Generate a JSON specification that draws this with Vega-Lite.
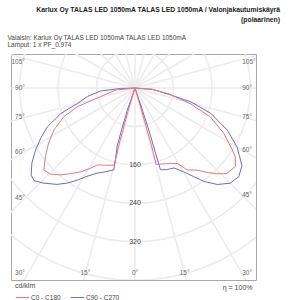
{
  "$schema": "https://vega.github.io/schema/vega-lite/v6.json",
  "width": 245,
  "height": 226,
  "autosize": {"type": "none"},
  "padding": {"left": 11, "top": 54, "right": 44, "bottom": 20},
  "background": "white",
  "config": {
    "view": {"stroke": "#a8a8a8", "strokeWidth": 1},
    "font": "Liberation Sans"
  },
  "title": {
    "text": ["Karlux Oy TALAS LED 1050mA TALAS LED 1050mA / Valonjakautumiskäyrä", "(polaarinen)"],
    "anchor": "end",
    "frame": "group",
    "align": "right",
    "fontSize": 6.8,
    "fontWeight": "bold",
    "color": "#222222",
    "lineHeight": 10,
    "dx": 24,
    "offset": 10
  },
  "datasets": {
    "rings": [{"r": 80}, {"r": 160}, {"r": 240}, {"r": 320}, {"r": 400}, {"r": 480}],
    "rays": [{"a": 0}, {"a": 15}, {"a": 30}, {"a": 45}, {"a": 60}, {"a": 75}, {"a": 90}, {"a": 105}, {"a": 120}, {"a": 135}, {"a": 150}, {"a": 165}, {"a": 180}, {"a": 195}, {"a": 210}, {"a": 225}, {"a": 240}, {"a": 255}, {"a": 270}, {"a": 285}, {"a": 300}, {"a": 315}, {"a": 330}, {"a": 345}],
    "alabels": [
      {"a": 30, "s": -1, "t": "30°"}, {"a": 45, "s": -1, "t": "45°"}, {"a": 60, "s": -1, "t": "60°"}, {"a": 75, "s": -1, "t": "75°"}, {"a": 90, "s": -1, "t": "90°"}, {"a": 105, "s": -1, "t": "105°"},
      {"a": 30, "s": 1, "t": "30°"}, {"a": 45, "s": 1, "t": "45°"}, {"a": 60, "s": 1, "t": "60°"}, {"a": 75, "s": 1, "t": "75°"}, {"a": 90, "s": 1, "t": "90°"}, {"a": 105, "s": 1, "t": "105°"},
      {"a": 15, "s": -1, "t": "15°"}, {"a": 0, "s": 1, "t": "0°"}, {"a": 15, "s": 1, "t": "15°"}
    ],
    "curves": [
      {"c": "C90 - C270", "s": -1, "i": 1, "g": 90, "v": 0},
      {"c": "C90 - C270", "s": -1, "i": 2, "g": 88, "v": 30},
      {"c": "C90 - C270", "s": -1, "i": 3, "g": 85, "v": 72},
      {"c": "C90 - C270", "s": -1, "i": 4, "g": 80, "v": 100},
      {"c": "C90 - C270", "s": -1, "i": 5, "g": 75, "v": 124},
      {"c": "C90 - C270", "s": -1, "i": 6, "g": 71, "v": 163},
      {"c": "C90 - C270", "s": -1, "i": 7, "g": 66, "v": 200},
      {"c": "C90 - C270", "s": -1, "i": 8, "g": 62, "v": 222},
      {"c": "C90 - C270", "s": -1, "i": 9, "g": 58, "v": 244},
      {"c": "C90 - C270", "s": -1, "i": 10, "g": 54, "v": 265},
      {"c": "C90 - C270", "s": -1, "i": 11, "g": 50, "v": 282},
      {"c": "C90 - C270", "s": -1, "i": 12, "g": 47.5, "v": 285},
      {"c": "C90 - C270", "s": -1, "i": 13, "g": 44, "v": 275},
      {"c": "C90 - C270", "s": -1, "i": 14, "g": 39, "v": 258},
      {"c": "C90 - C270", "s": -1, "i": 15, "g": 35.5, "v": 243},
      {"c": "C90 - C270", "s": -1, "i": 16, "g": 32, "v": 226},
      {"c": "C90 - C270", "s": -1, "i": 17, "g": 28.5, "v": 209},
      {"c": "C90 - C270", "s": -1, "i": 18, "g": 24, "v": 194},
      {"c": "C90 - C270", "s": -1, "i": 19, "g": 19.5, "v": 185},
      {"c": "C90 - C270", "s": -1, "i": 20, "g": 14.5, "v": 176},
      {"c": "C90 - C270", "s": -1, "i": 21, "g": 15.5, "v": 150},
      {"c": "C90 - C270", "s": -1, "i": 22, "g": 17, "v": 127},
      {"c": "C90 - C270", "s": -1, "i": 23, "g": 17.8, "v": 91},
      {"c": "C90 - C270", "s": -1, "i": 24, "g": 19, "v": 50},
      {"c": "C90 - C270", "s": -1, "i": 25, "g": 20, "v": 0},
      {"c": "C90 - C270", "s": 1, "i": 26, "g": 18.5, "v": 50},
      {"c": "C90 - C270", "s": 1, "i": 27, "g": 18.2, "v": 92},
      {"c": "C90 - C270", "s": 1, "i": 28, "g": 17.5, "v": 140},
      {"c": "C90 - C270", "s": 1, "i": 29, "g": 17.3, "v": 178},
      {"c": "C90 - C270", "s": 1, "i": 30, "g": 21, "v": 182},
      {"c": "C90 - C270", "s": 1, "i": 31, "g": 26, "v": 185},
      {"c": "C90 - C270", "s": 1, "i": 32, "g": 30, "v": 201},
      {"c": "C90 - C270", "s": 1, "i": 33, "g": 33.5, "v": 221},
      {"c": "C90 - C270", "s": 1, "i": 34, "g": 36.5, "v": 242},
      {"c": "C90 - C270", "s": 1, "i": 35, "g": 40.5, "v": 264},
      {"c": "C90 - C270", "s": 1, "i": 36, "g": 45, "v": 280},
      {"c": "C90 - C270", "s": 1, "i": 37, "g": 49.5, "v": 284},
      {"c": "C90 - C270", "s": 1, "i": 38, "g": 54, "v": 275},
      {"c": "C90 - C270", "s": 1, "i": 39, "g": 57, "v": 259},
      {"c": "C90 - C270", "s": 1, "i": 40, "g": 60, "v": 245},
      {"c": "C90 - C270", "s": 1, "i": 41, "g": 65.5, "v": 211},
      {"c": "C90 - C270", "s": 1, "i": 42, "g": 71.5, "v": 166},
      {"c": "C90 - C270", "s": 1, "i": 43, "g": 76, "v": 120},
      {"c": "C90 - C270", "s": 1, "i": 44, "g": 79, "v": 75},
      {"c": "C90 - C270", "s": 1, "i": 45, "g": 85, "v": 38},
      {"c": "C90 - C270", "s": 1, "i": 46, "g": 90, "v": 0},
      {"c": "C0 - C180", "s": -1, "i": 1, "g": 90, "v": 0},
      {"c": "C0 - C180", "s": -1, "i": 2, "g": 84, "v": 40},
      {"c": "C0 - C180", "s": -1, "i": 3, "g": 76, "v": 74},
      {"c": "C0 - C180", "s": -1, "i": 4, "g": 72, "v": 126},
      {"c": "C0 - C180", "s": -1, "i": 5, "g": 68, "v": 160},
      {"c": "C0 - C180", "s": -1, "i": 6, "g": 62.6, "v": 190},
      {"c": "C0 - C180", "s": -1, "i": 7, "g": 57.5, "v": 213},
      {"c": "C0 - C180", "s": -1, "i": 8, "g": 52.5, "v": 235},
      {"c": "C0 - C180", "s": -1, "i": 9, "g": 48, "v": 255},
      {"c": "C0 - C180", "s": -1, "i": 10, "g": 44.5, "v": 251},
      {"c": "C0 - C180", "s": -1, "i": 11, "g": 40.5, "v": 238},
      {"c": "C0 - C180", "s": -1, "i": 12, "g": 37, "v": 223},
      {"c": "C0 - C180", "s": -1, "i": 13, "g": 33, "v": 208},
      {"c": "C0 - C180", "s": -1, "i": 14, "g": 29, "v": 191},
      {"c": "C0 - C180", "s": -1, "i": 15, "g": 26, "v": 178},
      {"c": "C0 - C180", "s": -1, "i": 16, "g": 20, "v": 171},
      {"c": "C0 - C180", "s": -1, "i": 17, "g": 15, "v": 166},
      {"c": "C0 - C180", "s": -1, "i": 18, "g": 15.8, "v": 125},
      {"c": "C0 - C180", "s": -1, "i": 19, "g": 16, "v": 91},
      {"c": "C0 - C180", "s": -1, "i": 20, "g": 17, "v": 45},
      {"c": "C0 - C180", "s": -1, "i": 21, "g": 18, "v": 0},
      {"c": "C0 - C180", "s": 1, "i": 22, "g": 16.5, "v": 45},
      {"c": "C0 - C180", "s": 1, "i": 23, "g": 16, "v": 91},
      {"c": "C0 - C180", "s": 1, "i": 24, "g": 16, "v": 125},
      {"c": "C0 - C180", "s": 1, "i": 25, "g": 15.5, "v": 165},
      {"c": "C0 - C180", "s": 1, "i": 26, "g": 22, "v": 170},
      {"c": "C0 - C180", "s": 1, "i": 27, "g": 29.3, "v": 180},
      {"c": "C0 - C180", "s": 1, "i": 28, "g": 32.5, "v": 202},
      {"c": "C0 - C180", "s": 1, "i": 29, "g": 37, "v": 214},
      {"c": "C0 - C180", "s": 1, "i": 30, "g": 40.5, "v": 231},
      {"c": "C0 - C180", "s": 1, "i": 31, "g": 43.7, "v": 247},
      {"c": "C0 - C180", "s": 1, "i": 32, "g": 47, "v": 261},
      {"c": "C0 - C180", "s": 1, "i": 33, "g": 52, "v": 265},
      {"c": "C0 - C180", "s": 1, "i": 34, "g": 55.5, "v": 253},
      {"c": "C0 - C180", "s": 1, "i": 35, "g": 57.5, "v": 240},
      {"c": "C0 - C180", "s": 1, "i": 36, "g": 63, "v": 207},
      {"c": "C0 - C180", "s": 1, "i": 37, "g": 69, "v": 168},
      {"c": "C0 - C180", "s": 1, "i": 38, "g": 74, "v": 120},
      {"c": "C0 - C180", "s": 1, "i": 39, "g": 80, "v": 72},
      {"c": "C0 - C180", "s": 1, "i": 40, "g": 86, "v": 35},
      {"c": "C0 - C180", "s": 1, "i": 41, "g": 90, "v": 0}
    ]
  },
  "resolve": {"axis": {"x": "independent"}},
  "layer": [
    {
      "data": {"name": "rings"},
      "transform": [{"calculate": "0", "as": "z"}],
      "mark": {"type": "point", "shape": "circle", "filled": false, "stroke": "#ebebeb", "strokeWidth": 1.5, "opacity": 1, "clip": true},
      "encoding": {
        "x": {"field": "z", "type": "quantitative", "scale": {"domain": [-257.9, 251.7], "nice": false, "zero": false},
          "axis": {"orient": "bottom", "labels": false, "ticks": false, "domain": false, "grid": false, "title": "η = 100%", "titleAnchor": "end", "titleAlign": "right", "titleX": 241, "titleY": 7, "titleBaseline": "middle", "titleFontSize": 7, "titleFontWeight": "normal", "titleColor": "#444444"}},
        "y": {"field": "z", "type": "quantitative", "scale": {"domain": [-399.4, 70.7], "nice": false, "zero": false}, "axis": null},
        "size": {"field": "r", "type": "quantitative", "scale": {"type": "pow", "exponent": 2, "domain": [0, 480], "range": [0, 212982]}, "legend": null}
      }
    },
    {
      "data": {"name": "rays"},
      "transform": [
        {"calculate": "0", "as": "z"},
        {"calculate": "700*sin(datum.a*PI/180)", "as": "x2"},
        {"calculate": "-700*cos(datum.a*PI/180)", "as": "y2"}
      ],
      "mark": {"type": "rule", "stroke": "#ebebeb", "strokeWidth": 1.5, "clip": true},
      "encoding": {
        "x": {"field": "z", "type": "quantitative", "axis": null},
        "y": {"field": "z", "type": "quantitative", "axis": null},
        "x2": {"field": "x2"},
        "y2": {"field": "y2"}
      }
    },
    {
      "data": {"name": "curves"},
      "transform": [
        {"calculate": "datum.s*datum.v*sin(datum.g*PI/180)", "as": "x"},
        {"calculate": "-datum.v*cos(datum.g*PI/180)", "as": "y"}
      ],
      "mark": {"type": "line", "strokeWidth": 1, "clip": true},
      "encoding": {
        "x": {"field": "x", "type": "quantitative",
          "axis": {"orient": "top", "labels": false, "ticks": false, "domain": false, "grid": false, "title": ["Valaisin: Karlux Oy TALAS LED 1050mA TALAS LED 1050mA", "Lamput: 1 x PF_0.974"], "titleAnchor": "start", "titleAlign": "left", "titleX": -4, "titleY": -20, "titleBaseline": "top", "titleFontSize": 6.5, "titleFontWeight": "normal", "titleColor": "#444444", "titleLineHeight": 7.5}},
        "y": {"field": "y", "type": "quantitative", "axis": null},
        "order": {"field": "i", "type": "quantitative"},
        "color": {"field": "c", "type": "nominal",
          "scale": {"domain": ["C0 - C180", "C90 - C270"], "range": ["#e07a7a", "#6a6ad0"]},
          "legend": {"orient": "none", "legendX": 4, "legendY": 228, "direction": "horizontal", "title": "cd/klm", "titleFontSize": 7, "titleFontWeight": "normal", "titleColor": "#444444", "titlePadding": 1, "labelFontSize": 6.5, "labelColor": "#444444", "symbolType": "stroke", "symbolSize": 180, "symbolStrokeWidth": 1, "columnPadding": 7, "labelOffset": 1}}
      }
    },
    {
      "data": {"name": "rings"},
      "transform": [
        {"filter": "datum.r >= 160 && datum.r <= 320"},
        {"calculate": "0", "as": "z"},
        {"calculate": "-datum.r", "as": "y"},
        {"calculate": "datum.r + ''", "as": "t"}
      ],
      "mark": {"type": "text", "fontSize": 7, "color": "#444444", "baseline": "middle", "align": "center"},
      "encoding": {
        "x": {"field": "z", "type": "quantitative", "axis": null},
        "y": {"field": "y", "type": "quantitative", "axis": null},
        "text": {"field": "t"}
      }
    },
    {
      "data": {"name": "alabels"},
      "transform": [
        {"filter": "datum.a >= 30 && datum.s < 0"},
        {"calculate": "-229", "as": "x"},
        {"calculate": "min(-min(229/tan(datum.a*PI/180), 385), 54)", "as": "y"}
      ],
      "mark": {"type": "text", "fontSize": 6.5, "color": "#666666", "baseline": "middle", "align": "right"},
      "encoding": {
        "x": {"field": "x", "type": "quantitative", "axis": null},
        "y": {"field": "y", "type": "quantitative", "axis": null},
        "text": {"field": "t"}
      }
    },
    {
      "data": {"name": "alabels"},
      "transform": [
        {"filter": "datum.a >= 30 && datum.s > 0"},
        {"calculate": "223", "as": "x"},
        {"calculate": "min(-min(223/tan(datum.a*PI/180), 385), 54)", "as": "y"}
      ],
      "mark": {"type": "text", "fontSize": 6.5, "color": "#666666", "baseline": "middle", "align": "left"},
      "encoding": {
        "x": {"field": "x", "type": "quantitative", "axis": null},
        "y": {"field": "y", "type": "quantitative", "axis": null},
        "text": {"field": "t"}
      }
    },
    {
      "data": {"name": "alabels"},
      "transform": [
        {"filter": "datum.a < 30"},
        {"calculate": "datum.s*385*tan(datum.a*PI/180)", "as": "x"},
        {"calculate": "-385", "as": "y"}
      ],
      "mark": {"type": "text", "fontSize": 6.5, "color": "#666666", "baseline": "middle", "align": "center"},
      "encoding": {
        "x": {"field": "x", "type": "quantitative", "axis": null},
        "y": {"field": "y", "type": "quantitative", "axis": null},
        "text": {"field": "t"}
      }
    }
  ]
}
